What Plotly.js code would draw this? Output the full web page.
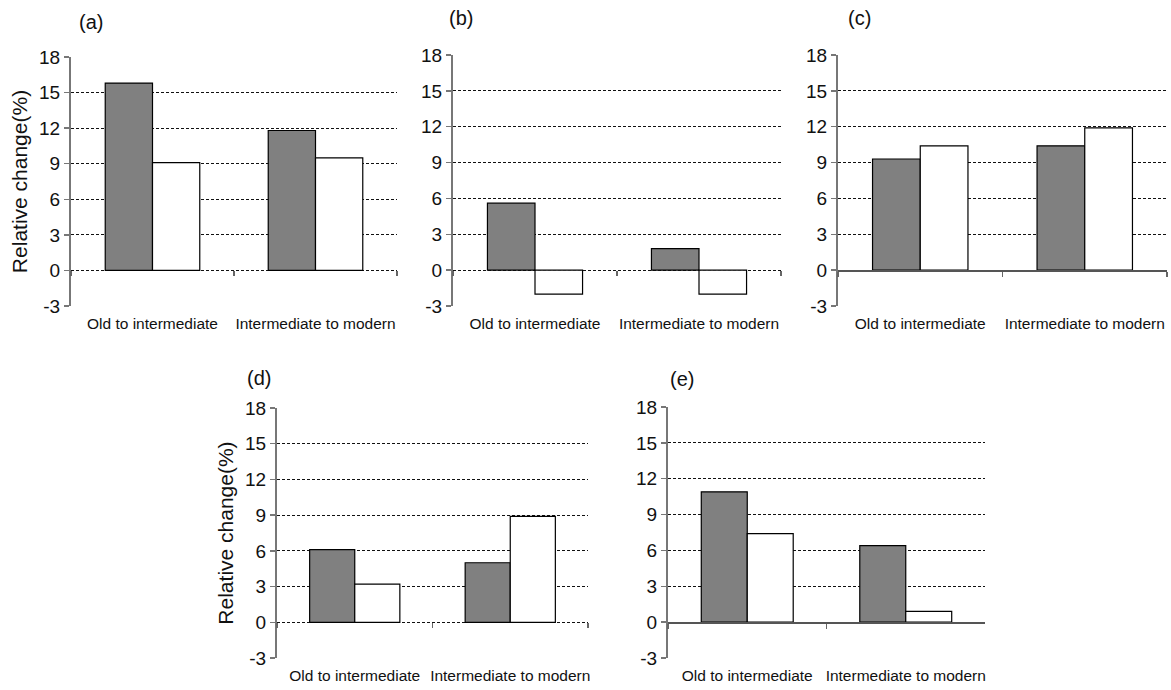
<!DOCTYPE html>
<html>
<head>
<meta charset="utf-8">
<script src="https://cdn.plot.ly/plotly-3.0.1.min.js"></script>
<style>html,body{margin:0;padding:0;background:#fff;}#chart{width:1171px;height:690px;}</style>
</head>
<body>
<div id="chart"></div>
<script>
// ---- data ----
const categories = ['Old to intermediate', 'Intermediate to modern'];
const panelLabels = ['(a)', '(b)', '(c)', '(d)', '(e)'];
const darkA = [15.8, 11.8], whiteA = [9.1, 9.5];
const darkB = [5.6, 1.8],   whiteB = [-2.0, -2.0];
const darkC = [9.3, 10.4],  whiteC = [10.4, 11.9];
const darkD = [6.1, 5.0],   whiteD = [3.2, 8.9];
const darkE = [10.9, 6.4],  whiteE = [7.4, 0.9];
const yTickVals = [-3, 0, 3, 6, 9, 12, 15, 18];
const yTickText = ['-3', '0', '3', '6', '9', '12', '15', '18'];
const yTitle = 'Relative change(%)';

// ---- layout geometry (pixels) ----
const W = 1171, H = 690;
const boxes = [
  {l: 71,  r: 397,  t: 57,  b: 306, solidZero: false, title: true,  lab: [91, 22]},
  {l: 453, r: 781,  t: 55,  b: 306, solidZero: false, title: false, lab: [461, 18]},
  {l: 838, r: 1167, t: 55,  b: 306, solidZero: true,  title: false, lab: [859, 18]},
  {l: 277, r: 588,  t: 408, b: 658, solidZero: false, title: true,  lab: [259, 378]},
  {l: 668, r: 985,  t: 407, b: 658, solidZero: true,  title: false, lab: [682, 379]}
];
const series = [[darkA, whiteA], [darkB, whiteB], [darkC, whiteC], [darkD, whiteD], [darkE, whiteE]];
const yRange = [-3, 18];
const FONT = 'Liberation Sans, Arial, sans-serif';

const data = [];
const layout = {
  width: W, height: H,
  margin: {l: 0, r: 0, t: 0, b: 0},
  paper_bgcolor: '#fff', plot_bgcolor: '#fff',
  showlegend: false,
  barmode: 'group', bargap: 0.42, bargroupgap: 0,
  font: {family: FONT, color: '#111'},
  annotations: []
};

boxes.forEach((bx, i) => {
  const n = i + 1;
  const xs = n === 1 ? '' : String(n);
  const zn = n + 5;
  const xd = [bx.l / W, bx.r / W];
  const yd = [1 - bx.b / H, 1 - bx.t / H];
  const [dark, white] = series[i];

  data.push({type: 'bar', x: categories, y: dark, xaxis: 'x' + xs, yaxis: 'y' + xs,
    marker: {color: '#808080', line: {color: '#000', width: 1.2}}, hoverinfo: 'y'});
  data.push({type: 'bar', x: categories, y: white, xaxis: 'x' + xs, yaxis: 'y' + xs,
    marker: {color: '#ffffff', line: {color: '#000', width: 1.2}}, hoverinfo: 'y'});
  // binding trace for zero-level axis (draws nothing)
  data.push({type: 'scatter', mode: 'markers', x: categories, y: [null, null],
    xaxis: 'x' + zn, yaxis: 'y' + xs, hoverinfo: 'skip'});

  layout['xaxis' + xs] = {
    domain: xd, anchor: 'y' + xs, type: 'category',
    categoryarray: categories, range: [-0.5, 1.5],
    showline: false, ticks: '', showgrid: false, zeroline: false,
    tickfont: {size: 15.5, family: FONT, color: '#111'},
    ticklabelstandoff: 6, automargin: false, fixedrange: true
  };
  layout['yaxis' + xs] = {
    domain: yd, anchor: 'x' + xs, range: yRange,
    tickmode: 'array', tickvals: yTickVals, ticktext: yTickText,
    showline: true, linecolor: '#777', linewidth: 2,
    ticks: 'outside', ticklen: 5, tickcolor: '#777', tickwidth: 1.5,
    showgrid: true, gridcolor: '#111', gridwidth: 1, griddash: '3px,2px',
    zeroline: false,
    tickfont: {size: 19, family: FONT, color: '#111'},
    automargin: false, fixedrange: true,
    title: bx.title ? {text: yTitle, font: {size: 21, family: FONT, color: '#111'}, standoff: 6} : {text: ''}
  };
  const zeroPos = yd[0] + (0 - yRange[0]) / (yRange[1] - yRange[0]) * (yd[1] - yd[0]);
  layout['xaxis' + zn] = {
    overlaying: 'x' + xs, anchor: 'free', position: zeroPos, side: 'bottom',
    type: 'category', categoryarray: categories, range: [-0.5, 1.5],
    showticklabels: false, ticks: 'outside', tickson: 'boundaries',
    ticklen: 5, tickcolor: '#666', tickwidth: 1.5,
    showline: bx.solidZero, linecolor: '#555', linewidth: 1.5,
    showgrid: false, zeroline: false, automargin: false, fixedrange: true
  };
  layout.annotations.push({
    text: panelLabels[i], xref: 'paper', yref: 'paper',
    x: bx.lab[0] / W, y: 1 - bx.lab[1] / H, xanchor: 'center', yanchor: 'middle',
    showarrow: false, font: {size: 20, family: FONT, color: '#111'}
  });
});

Plotly.newPlot('chart', data, layout, {displayModeBar: false, staticPlot: true});
</script>
</body>
</html>
